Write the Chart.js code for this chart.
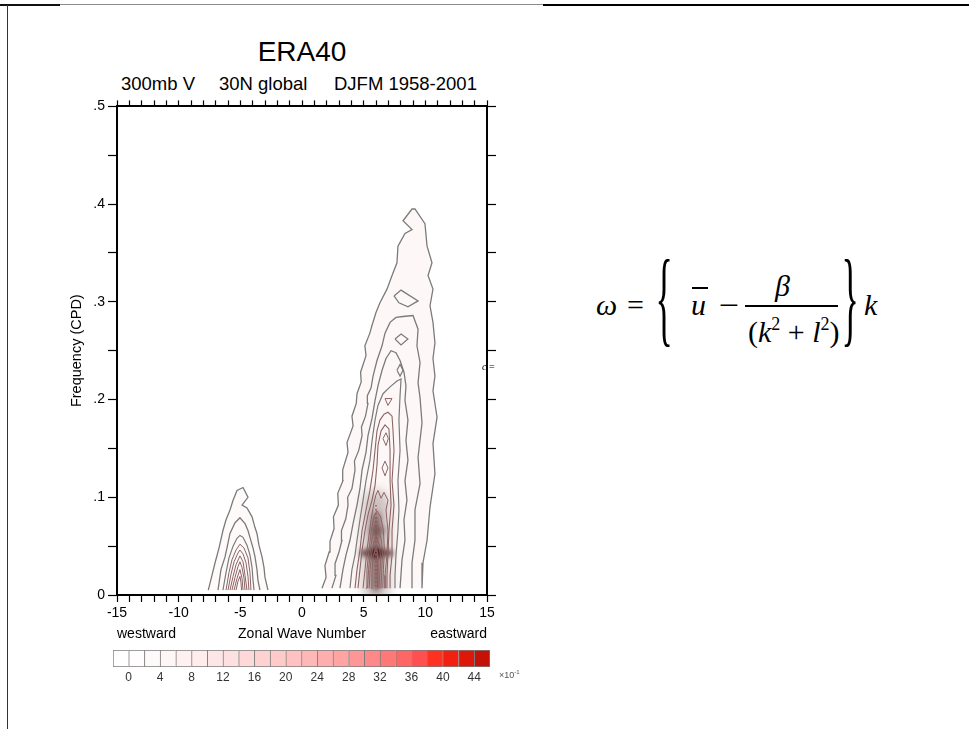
<!DOCTYPE html>
<html>
<head>
<meta charset="utf-8">
<script src="https://cdn.jsdelivr.net/npm/chart.js@4.4.0/dist/chart.umd.min.js"></script>
<style>
  html, body { margin: 0; padding: 0; background: #fff; }
  body { width: 969px; height: 729px; position: relative; overflow: hidden; font-family: "Liberation Sans", Arial, sans-serif; color: #000; }
  .abs { position: absolute; white-space: nowrap; line-height: 1; }
  .rule { position: absolute; }
  #spectrum { position: absolute; left: 60px; top: 95px; }
  #colorbar { position: absolute; left: 103px; top: 645px; }
  .eq { position: absolute; font-family: "Liberation Serif", "Times New Roman", serif; font-size: 30px; line-height: 1; white-space: nowrap; }
  .eq i { font-style: italic; }
  .brace { transform: scale(1.2, 3.5); transform-origin: 50% 17.6px; }
  .sup { font-size: 18px; position: relative; top: -12px; }
</style>
</head>
<body>
<!-- page frame -->
<div class="rule" style="left:0;top:4px;width:60px;height:2px;background:#111"></div>
<div class="rule" style="left:60px;top:4px;width:484px;height:1px;background:#8c8c8c"></div>
<div class="rule" style="left:543px;top:4px;width:426px;height:2px;background:#000"></div>
<div class="rule" style="left:7px;top:5px;width:1px;height:724px;background:#333"></div>

<div class="abs" style="left:0;width:604px;text-align:center;top:38px;font-size:28px">ERA40</div>
<div class="abs" style="left:121px;top:75px;font-size:18.5px">300mb V</div>
<div class="abs" style="left:219px;top:75px;font-size:18.5px">30N global</div>
<div class="abs" style="left:334px;top:75px;font-size:18.5px">DJFM 1958-2001</div>

<canvas id="spectrum" width="440" height="550"></canvas>
<canvas id="colorbar" width="400" height="42"></canvas>
<div class="abs" style="left:499px;top:671px;font-size:9px;color:#555">×10<span style="font-size:6px;position:relative;top:-4px">-1</span></div>

<div class="eq" style="left:482px;top:362px;font-size:10px"><i>c</i> =</div>

<!-- dispersion relation -->
<div class="eq" style="left:596px;top:290px"><i>ω</i></div>
<div class="eq" style="left:627px;top:290px">=</div>
<div class="eq brace" style="left:657px;top:289px">{</div>
<div class="eq" style="left:691px;top:290px"><i>u</i></div>
<div class="rule" style="left:692px;top:287px;width:16px;height:1.5px;background:#000"></div>
<div class="eq" style="left:719px;top:290px;transform:scaleX(1.2);transform-origin:0 50%">−</div>
<div class="eq" style="left:775px;top:271px"><i>β</i></div>
<div class="rule" style="left:745px;top:305px;width:93px;height:1.5px;background:#000"></div>
<div class="eq" style="left:748px;top:317px">(<i>k</i><span class="sup">2</span> + <i>l</i><span class="sup">2</span>)</div>
<div class="eq brace" style="left:843px;top:289px">}</div>
<div class="eq" style="left:864px;top:290px"><i>k</i></div>

<script>
// axis ticks
const waveTicks = [-15, -10, -5, 0, 5, 10, 15];
const waveTickLabels = ['-15', '-10', '-5', '0', '5', '10', '15'];
const freqTickLabels = ['0', '.1', '.2', '.3', '.4', '.5'];

// contours, [zonal wavenumber, frequency cpd]
// westward-moving lobe around k = -5
const westC1 = [[-7.6,.005],[-7.3,.020],[-7.05,.033],[-6.73,.048],[-6.41,.066],[-6.16,.077],[-5.84,.087],[-5.59,.097],[-5.27,.107],[-4.78,.110],[-4.38,.100],[-4.86,.092],[-4.46,.089],[-4.05,.080],[-3.81,.069],[-3.65,.063],[-3.49,.051],[-3.24,.039],[-3.08,.028],[-3.00,.018],[-2.76,.005]];
const westC2 = [[-6.81,.005],[-6.57,.026],[-6.24,.039],[-6.00,.053],[-5.84,.063],[-5.43,.074],[-5.03,.079],[-4.62,.073],[-4.38,.066],[-4.22,.059],[-3.97,.048],[-3.81,.039],[-3.65,.026],[-3.57,.015],[-3.41,.005]];
const westC3 = [[-6.41,.005],[-6.16,.023],[-5.92,.038],[-5.59,.050],[-5.27,.058],[-5.03,.061],[-4.78,.059],[-4.46,.051],[-4.22,.041],[-4.05,.028],[-3.97,.015],[-3.89,.005]];
const westC4 = [[-6.16,.005],[-5.92,.023],[-5.68,.036],[-5.35,.046],[-5.03,.052],[-4.70,.048],[-4.38,.038],[-4.22,.023],[-4.14,.005]];
const westC5 = [[-6.00,.005],[-5.76,.021],[-5.51,.034],[-5.19,.043],[-5.03,.046],[-4.78,.042],[-4.54,.033],[-4.38,.019],[-4.30,.005]];
const westC6 = [[-5.84,.005],[-5.59,.019],[-5.35,.031],[-5.03,.040],[-4.78,.034],[-4.62,.020],[-4.46,.005]];
const westC7 = [[-5.68,.005],[-5.43,.018],[-5.19,.029],[-5.03,.034],[-4.86,.028],[-4.70,.017],[-4.62,.005]];
const westC8 = [[-5.51,.005],[-5.27,.017],[-5.03,.026],[-4.86,.017],[-4.78,.005]];
const westC9 = [[-5.35,.005],[-5.19,.014],[-5.03,.019],[-4.95,.013],[-4.90,.005]];

// eastward-moving band around k = 6
const eastC1 = [[1.62,.007],[1.95,.018],[1.86,.030],[2.20,.044],[2.27,.055],[2.60,.068],[2.55,.080],[2.95,.092],[2.90,.104],[3.32,.117],[3.30,.128],[3.73,.146],[3.65,.156],[4.14,.173],[4.05,.183],[4.40,.196],[4.46,.206],[4.80,.218],[4.75,.228],[5.19,.245],[5.10,.255],[5.50,.268],[5.68,.276],[6.00,.289],[6.32,.299],[6.89,.313],[7.30,.327],[7.70,.340],[7.78,.357],[8.35,.370],[8.92,.374],[8.19,.383],[8.92,.395],[9.16,.395],[9.97,.380],[10.14,.357],[10.54,.340],[10.22,.327],[10.62,.313],[10.38,.296],[10.62,.279],[10.78,.258],[10.62,.242],[10.78,.224],[10.62,.209],[10.95,.182],[10.62,.155],[10.78,.124],[10.38,.090],[10.14,.056],[9.81,.033],[9.73,.007]];
const eastC2 = [[2.43,.007],[2.75,.020],[2.68,.032],[3.00,.044],[3.24,.056],[3.20,.066],[3.55,.078],[3.73,.092],[3.70,.100],[4.05,.109],[4.30,.128],[4.25,.137],[4.60,.148],[4.87,.163],[4.82,.172],[5.15,.183],[5.35,.196],[5.30,.204],[5.60,.212],[5.76,.224],[6.08,.240],[6.49,.255],[6.73,.268],[7.14,.279],[7.62,.284],[8.19,.285],[9.00,.286],[9.41,.272],[9.32,.255],[9.57,.238],[9.41,.217],[9.57,.202],[9.73,.176],[9.41,.141],[9.57,.114],[9.16,.087],[9.16,.056],[8.92,.033],[8.92,.007]];
const eastIsland = [[7.46,.306],[8.03,.312],[9.41,.301],[8.59,.295],[7.86,.299],[7.46,.306]];
const eastC3 = [[3.08,.007],[3.32,.026],[3.57,.041],[3.89,.056],[4.14,.073],[4.46,.092],[4.70,.109],[4.87,.128],[5.19,.146],[5.35,.163],[5.68,.181],[5.92,.199],[6.16,.214],[6.49,.230],[6.81,.242],[7.22,.250],[7.62,.248],[7.95,.240],[8.27,.228],[8.43,.214],[8.35,.199],[8.59,.179],[8.43,.158],[8.59,.138],[8.35,.117],[8.51,.097],[8.27,.077],[8.35,.056],[8.11,.036],[7.95,.007]];
const eastDiamond1 = [[7.54,.262],[8.03,.267],[8.59,.262],[8.03,.256],[7.54,.262]];
const eastC4 = [[3.89,.007],[4.05,.026],[4.30,.041],[4.46,.056],[4.70,.077],[4.95,.097],[5.19,.117],[5.51,.138],[5.68,.158],[5.92,.179],[6.16,.194],[6.57,.206],[7.14,.213],[7.70,.219],[8.03,.221],[7.95,.204],[7.86,.179],[7.95,.148],[7.78,.117],[7.86,.087],[7.78,.066],[7.62,.041],[7.54,.020],[7.54,.007]];
const eastLoop = [[7.70,.230],[7.95,.236],[8.19,.230],[7.95,.224],[7.70,.230]];
const eastC5 = [[4.30,.007],[4.46,.026],[4.70,.046],[4.87,.066],[5.19,.087],[5.51,.107],[5.76,.128],[5.92,.148],[6.08,.168],[6.32,.179],[6.65,.185],[6.97,.187],[7.30,.183],[7.38,.168],[7.46,.148],[7.30,.117],[7.46,.092],[7.30,.066],[7.30,.041],[7.14,.020],[7.14,.007]];
const eastTriangle = [[6.73,.201],[7.30,.201],[6.97,.194],[6.73,.201]];
const eastC6 = [[4.54,.007],[4.70,.026],[4.87,.046],[5.11,.066],[5.35,.082],[5.68,.097],[5.92,.112],[6.08,.133],[6.16,.153],[6.41,.168],[6.73,.174],[7.05,.170],[7.14,.148],[7.14,.117],[7.22,.092],[7.05,.066],[6.97,.041],[6.89,.020],[6.89,.007]];
const eastDiamond2 = [[6.57,.160],[6.81,.166],[7.00,.160],[6.81,.153],[6.57,.160]];
const eastDiamond3 = [[6.49,.130],[6.73,.137],[6.97,.130],[6.73,.122],[6.49,.130]];
const eastC7 = [[4.95,.007],[5.11,.026],[5.27,.046],[5.43,.061],[5.60,.077],[5.80,.092],[5.98,.102],[6.16,.107],[6.41,.099],[6.65,.105],[6.97,.097],[6.81,.087],[6.97,.066],[6.89,.041],[6.73,.020],[6.73,.007]];
const eastC8 = [[5.19,.007],[5.27,.026],[5.43,.046],[5.62,.066],[5.82,.080],[6.08,.086],[6.38,.080],[6.60,.066],[6.68,.046],[6.60,.026],[6.55,.007]];
const eastC9 = [[5.32,.007],[5.40,.026],[5.55,.046],[5.70,.060],[5.92,.068],[6.22,.065],[6.45,.056],[6.52,.041],[6.46,.023],[6.40,.007]];
const eastC10 = [[5.45,.007],[5.52,.026],[5.66,.043],[5.84,.055],[6.06,.059],[6.28,.051],[6.38,.036],[6.30,.020],[6.24,.007]];
const eastC11 = [[5.60,.007],[5.67,.023],[5.76,.039],[6.00,.050],[6.16,.041],[6.16,.023],[6.10,.007]];
const eastC12 = [[5.86,.043],[6.00,.046],[6.12,.043],[6.00,.040],[5.86,.043]];

// spectral peak: dotted ridge and dark shading
const ridgeLine = [[6.0,.092],[6.0,.006]];
const peakHaze = [[6.0,.094],[6.0,.003]];
const peakSpine = [[6.0,.080],[6.0,.008]];
const peakBar = [[5.0,.043],[7.1,.043]];
const peakUpperBar = [[5.7,.066],[6.6,.066]];
const peakCore = [[5.75,.043],[6.25,.043]];

// colour key
const colorLevels = [0,2,4,6,8,10,12,14,16,18,20,22,24,26,28,30,32,34,36,38,40,42,44];
const colorTickLabels = [0,4,8,12,16,20,24,28,32,36,40,44];
const colorBins = ['#ffffff','#fffdfd','#fffafa','#fff6f6','#fff1f1','#ffecec','#ffe6e6','#ffe0e0','#ffd9d9','#ffd2d2','#ffcaca','#ffc1c1',
                   '#ffb8b8','#ffaeae','#ffa3a3','#ff9696','#ff8888','#ff7878','#ff6666','#ff5050','#ff3222','#f22010','#de1808','#c41206'];

const toXY = pts => pts.map(([x, y]) => ({ x, y }));

function contour(pts, color, width) {
    return { data: toXY(pts), showLine: true, pointRadius: 0, borderColor: color, borderWidth: width, fill: false, order: 1 };
}
function shade(pts, color) {
    return { data: toXY(pts), showLine: true, pointRadius: 0, borderColor: 'rgba(0,0,0,0)', borderWidth: 1, backgroundColor: color, fill: 'shape', order: 3 };
}
function smudge(pts, color, width, blur) {
    return { data: toXY(pts), showLine: true, pointRadius: 0, borderColor: color, borderWidth: width, borderCapStyle: 'round', fill: false, blur: blur, order: 2 };
}

const OUTER = '#7b7b7b';
const INNER = '#8d6464';

const datasets = [
    contour(westC1, OUTER, 1.3), contour(westC2, OUTER, 1.3), contour(westC3, OUTER, 1.2),
    contour(westC4, INNER, 1), contour(westC5, INNER, 1), contour(westC6, INNER, 1),
    contour(westC7, INNER, 1), contour(westC8, INNER, 1), contour(westC9, INNER, 1),
    contour(eastC1, OUTER, 1.3), contour(eastC2, OUTER, 1.3), contour(eastIsland, OUTER, 1.3),
    contour(eastC3, OUTER, 1.3), contour(eastDiamond1, OUTER, 1.2), contour(eastC4, OUTER, 1.2),
    contour(eastLoop, OUTER, 1.2), contour(eastC5, INNER, 1.1), contour(eastTriangle, INNER, 1),
    contour(eastC6, INNER, 1.1), contour(eastDiamond2, INNER, 1), contour(eastDiamond3, INNER, 1),
    contour(eastC7, INNER, 1), contour(eastC8, INNER, 1), contour(eastC9, INNER, 1),
    contour(eastC10, INNER, 1), contour(eastC11, INNER, 1), contour(eastC12, INNER, 1),
    Object.assign(contour(ridgeLine, '#c33a3a', 1.4), { borderDash: [1.5, 2.5], order: 0 }),
    smudge(peakHaze, 'rgba(100,70,70,0.32)', 26, 6),
    smudge(peakSpine, 'rgba(55,10,10,0.55)', 9, 3),
    smudge(peakUpperBar, 'rgba(60,15,15,0.45)', 6, 3),
    smudge(peakBar, 'rgba(40,0,0,0.7)', 7, 2.5),
    smudge(peakCore, 'rgba(30,0,0,0.85)', 8, 2),
    shade(westC1, '#fefafa'), shade(westC4, '#fbeeee'), shade(westC7, '#f5d6d6'),
    shade(eastC1, '#fdf8f7'), shade(eastC3, '#fcf1f1'), shade(eastC5, '#fae4e4'),
    shade(eastC7, '#f6d6d8'), shade(eastC9, '#efc4c6')
];

// blurred marks get a canvas filter while they draw
const softMarks = {
    id: 'softMarks',
    beforeDatasetDraw(chart, args) {
        const ds = chart.data.datasets[args.index];
        if (!ds.blur) return;
        chart.ctx.save();
        chart.ctx.filter = `blur(${ds.blur}px)`;
    },
    afterDatasetDraw(chart, args) {
        if (chart.data.datasets[args.index].blur) chart.ctx.restore();
    }
};

// direction words either side of the x title
const axisEnds = {
    id: 'axisEnds',
    afterDraw(chart) {
        const { ctx } = chart;
        const x = chart.scales.x;
        const y = x.bottom - 11;
        ctx.save();
        ctx.font = '14px "Liberation Sans", Arial, sans-serif';
        ctx.fillStyle = '#000';
        ctx.textBaseline = 'middle';
        ctx.textAlign = 'left';
        ctx.fillText('westward', x.left, y);
        ctx.textAlign = 'right';
        ctx.fillText('eastward', x.right, y);
        ctx.restore();
    }
};

Chart.defaults.font.family = '"Liberation Sans", Arial, sans-serif';
Chart.defaults.color = '#000';

const frame = { display: true, color: '#000', width: 2 };

new Chart(document.getElementById('spectrum'), {
    type: 'scatter',
    data: { datasets },
    options: {
        responsive: false,
        animation: false,
        layout: { padding: 0 },
        plugins: { legend: { display: false }, tooltip: { enabled: false } },
        scales: {
            x: {
                type: 'linear', position: 'bottom', min: -15, max: 15,
                border: frame,
                grid: { drawOnChartArea: false, tickLength: 7, tickColor: '#000', tickWidth: 1.2 },
                ticks: {
                    stepSize: 1, autoSkip: false, maxRotation: 0, minRotation: 0, padding: 3,
                    font: { size: 14 },
                    callback: v => { const i = waveTicks.indexOf(v); return i >= 0 ? waveTickLabels[i] : ''; }
                },
                title: { display: true, text: 'Zonal Wave Number', font: { size: 14 }, padding: { top: 0, bottom: 2.6 } },
                afterFit: s => { s.height = 50; }
            },
            x2: {
                type: 'linear', position: 'top', min: -15, max: 15,
                border: frame,
                grid: { drawOnChartArea: false, tickLength: 6, tickColor: '#000', tickWidth: 1.2 },
                ticks: { stepSize: 1, autoSkip: false, maxRotation: 0, minRotation: 0, callback: () => '' },
                afterFit: s => { s.height = 10; }
            },
            y: {
                type: 'linear', position: 'left', min: 0, max: 0.5,
                border: frame,
                grid: { drawOnChartArea: false, tickLength: 9, tickColor: '#000', tickWidth: 1.2 },
                ticks: {
                    stepSize: 0.05, autoSkip: false, padding: 3, font: { size: 14 },
                    callback: v => { const k = Math.round(v * 20); return k % 2 === 0 ? freqTickLabels[k / 2] : ''; }
                },
                title: { display: true, text: 'Frequency (CPD)', font: { size: 14.5 }, padding: { top: 8.3, bottom: 0 } },
                afterFit: s => { s.width = 57; }
            },
            y2: {
                type: 'linear', position: 'right', min: 0, max: 0.5,
                border: frame,
                grid: { drawOnChartArea: false, tickLength: 9, tickColor: '#000', tickWidth: 1.2 },
                ticks: { stepSize: 0.05, autoSkip: false, callback: () => '' },
                afterFit: s => { s.width = 13; }
            }
        }
    },
    plugins: [softMarks, axisEnds]
});

// colour key: one box per shading interval
const binEdges = [colorLevels[0] - 2, ...colorLevels, colorLevels[colorLevels.length - 1] + 2];
const lastBin = colorBins.length - 1;

new Chart(document.getElementById('colorbar'), {
    type: 'bar',
    data: {
        datasets: [{
            data: colorBins.map((c, i) => ({ x: (binEdges[i] + binEdges[i + 1]) / 2, y: 1 })),
            backgroundColor: colorBins,
            borderColor: '#7c7c7c',
            borderWidth: ctx => ctx.dataIndex === lastBin ? 1 : { top: 1, bottom: 1, left: 1, right: 0 },
            borderSkipped: false,
            barPercentage: 1,
            categoryPercentage: 1
        }]
    },
    options: {
        responsive: false,
        animation: false,
        layout: { padding: { left: 10, right: 13, top: 5, bottom: 0 } },
        plugins: { legend: { display: false }, tooltip: { enabled: false } },
        scales: {
            x: {
                type: 'linear', min: binEdges[0], max: binEdges[binEdges.length - 1], offset: false,
                grid: { display: false, drawTicks: false, offset: false },
                border: { display: false },
                afterBuildTicks: s => { s.ticks = colorTickLabels.map(v => ({ value: v })); },
                ticks: { autoSkip: false, maxRotation: 0, padding: 3, color: '#333', font: { size: 12 }, callback: v => String(v) },
                afterFit: s => { s.height = 20; }
            },
            y: { display: false, min: 0, max: 1 }
        }
    }
});
</script>
</body>
</html>
